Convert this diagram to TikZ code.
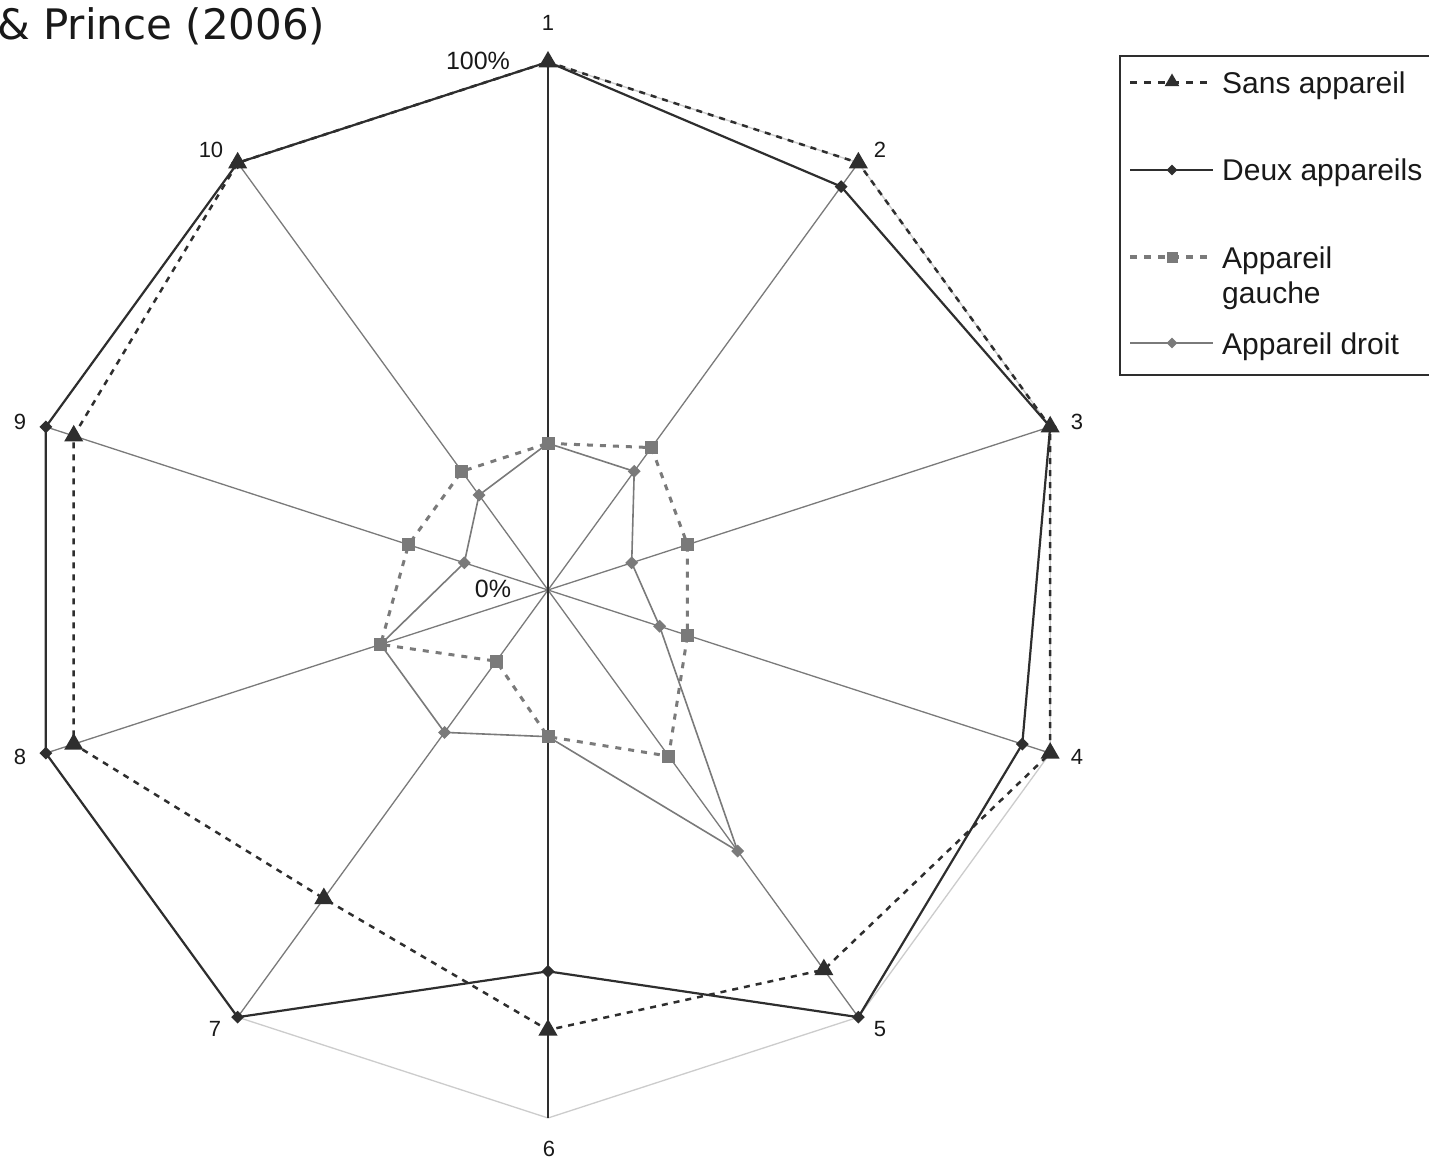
\documentclass[tikz,border=0pt]{standalone}
\usepackage{fontspec}
\setmainfont{Liberation Sans}
\newfontfamily\titlefont{DejaVu Sans}
\usetikzlibrary{shapes.geometric}
\definecolor{dk}{gray}{0.18}
\definecolor{md}{gray}{0.48}
\definecolor{ringc}{gray}{0.8}
\definecolor{txt}{gray}{0.1}
\begin{document}
\begin{tikzpicture}[x=1pt,y=-1pt,
  spoke/.style={draw=md,line width=1.3pt},
  valaxis/.style={draw=dk,line width=2.8pt},
  ringline/.style={draw=ringc,line width=1.3pt},
  sansline/.style={draw=dk,line width=2.5pt,dash pattern=on 6pt off 6pt},
  deuxline/.style={draw=dk,line width=2.2pt},
  gaucheline/.style={draw=md,line width=3pt,dash pattern=on 6pt off 7pt},
  droitline/.style={draw=md,line width=1.6pt},
  tri/.style={regular polygon,regular polygon sides=3,fill=dk,draw=none,inner sep=0pt,minimum size=22pt},
  dkdia/.style={diamond,fill=dk,draw=none,inner sep=0pt,minimum width=13pt,minimum height=13pt},
  sq/.style={rectangle,fill=md,draw=none,inner sep=0pt,minimum size=13pt},
  gdia/.style={diamond,fill=md,draw=none,inner sep=0pt,minimum width=13pt,minimum height=13pt},
  axlabel/.style={text=txt,font=\fontsize{22}{26}\selectfont,inner sep=0pt},
  pctlabel/.style={text=txt,font=\fontsize{25}{30}\selectfont,inner sep=0pt},
  legtext/.style={text=txt,font=\fontsize{30}{36}\selectfont,inner sep=0pt,anchor=base west},
  legbox/.style={draw=dk,line width=1.8pt}
]
\useasboundingbox (0,0) rectangle (1429,1161);
\fill[white] (0,0) rectangle (1429,1161);

% coordinates
\coordinate (c) at (548,590);
\begin{scope}[shift={(548,590)}]
  \foreach \k in {1,...,10}
    \coordinate (o\k) at ({36*(\k-1)-90}:528);
  \foreach \v [count=\k] in {18,18,18,18,16,15,13,17,17,18}
    \coordinate (s\k) at ({36*(\k-1)-90}:{\v*528/18});
  \foreach \v [count=\k] in {18,17,18,17,18,13,18,18,18,18}
    \coordinate (d\k) at ({36*(\k-1)-90}:{\v*528/18});
  \foreach \v [count=\k] in {5,6,5,5,7,5,3,6,5,5}
    \coordinate (g\k) at ({36*(\k-1)-90}:{\v*528/18});
  \foreach \v [count=\k] in {5,5,3,4,11,5,6,6,3,4}
    \coordinate (r\k) at ({36*(\k-1)-90}:{\v*528/18});
\end{scope}

% outer grid ring
\draw[ringline] (o1) -- (o2) -- (o3) -- (o4) -- (o5) -- (o6) -- (o7) -- (o8) -- (o9) -- (o10) -- cycle;
% spokes
\foreach \k in {2,3,4,5,7,8,9,10}
  \draw[spoke] (c) -- (o\k);
% value axis
\draw[valaxis] (o1) -- (o6);

% series: Sans appareil
\draw[sansline] (s1) -- (s2) -- (s3) -- (s4) -- (s5) -- (s6) -- (s7) -- (s8) -- (s9) -- (s10) -- cycle;
% series: Deux appareils
\draw[deuxline] (d1) -- (d2) -- (d3) -- (d4) -- (d5) -- (d6) -- (d7) -- (d8) -- (d9) -- (d10) -- cycle;
% series: Appareil gauche
\draw[gaucheline] (g1) -- (g2) -- (g3) -- (g4) -- (g5) -- (g6) -- (g7) -- (g8) -- (g9) -- (g10) -- cycle;
% series: Appareil droit
\draw[droitline] (r1) -- (r2) -- (r3) -- (r4) -- (r5) -- (r6) -- (r7) -- (r8) -- (r9) -- (r10) -- cycle;

% markers
\foreach \k in {1,...,10} {
  \node[tri] (ms\k) at (s\k) {};
  \node[dkdia] (md\k) at (d\k) {};
  \node[sq] (mg\k) at (g\k) {};
  \node[gdia] (mr\k) at (r\k) {};
}

% axis labels
\node[axlabel] (lab1) at (548,23) {1};
\node[axlabel] (lab2) at (880,150) {2};
\node[axlabel] (lab3) at (1077,422) {3};
\node[axlabel] (lab4) at (1077,757) {4};
\node[axlabel] (lab5) at (880,1029) {5};
\node[axlabel] (lab6) at (549,1149) {6};
\node[axlabel] (lab7) at (215,1029) {7};
\node[axlabel] (lab8) at (20,757) {8};
\node[axlabel] (lab9) at (20,422) {9};
\node[axlabel] (lab10) at (211,150) {10};
\node[pctlabel] (p100) at (478,61) {100\%};
\node[pctlabel] (p0) at (493,589) {0\%};

% title fragment
\node[text=txt,font=\titlefont\fontsize{42}{50}\selectfont,inner sep=0pt,anchor=base west] (title) at (-3,40) {\& Prince (2006)};

% legend
\draw[legbox] (1120,56) rectangle (1445,375);
\coordinate (la1) at (1130,83);  \coordinate (lb1) at (1213,83);
\coordinate (la2) at (1130,170); \coordinate (lb2) at (1213,170);
\coordinate (la3) at (1130,257); \coordinate (lb3) at (1213,257);
\coordinate (la4) at (1130,343); \coordinate (lb4) at (1213,343);
\draw[sansline,line width=3pt,dash pattern=on 7pt off 7pt] (la1) -- (lb1);
\node[tri,minimum size=17pt] (lm1) at (1172,82) {};
\draw[deuxline] (la2) -- (lb2);
\node[dkdia,minimum width=11pt,minimum height=11pt] (lm2) at (1172,170) {};
\draw[gaucheline,line width=3.5pt,dash pattern=on 7pt off 7pt] (la3) -- (lb3);
\node[sq,minimum size=11pt] (lm3) at (1172,257) {};
\draw[droitline] (la4) -- (lb4);
\node[gdia,minimum width=11pt,minimum height=11pt] (lm4) at (1172,343) {};
\node[legtext] (lt1) at (1222,94) {Sans appareil};
\node[legtext] (lt2) at (1222,181) {Deux appareils};
\node[legtext] (lt3) at (1222,268) {Appareil};
\node[legtext] (lt3b) at (1222,303) {gauche};
\node[legtext] (lt4) at (1222,354) {Appareil droit};
\end{tikzpicture}
\end{document}
